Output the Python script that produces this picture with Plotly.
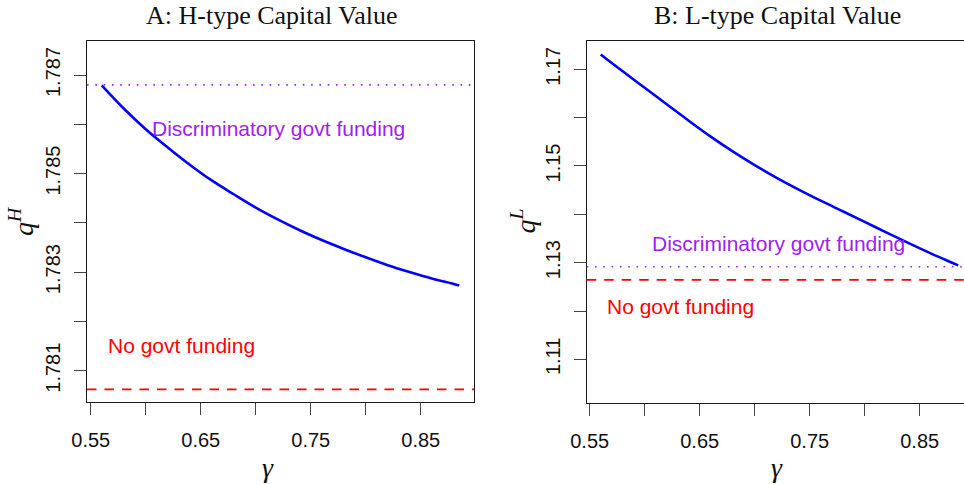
import plotly.graph_objects as go

# Ownership share of H-type producers
gamma = [0.56, 0.58, 0.60, 0.62, 0.64, 0.66, 0.68, 0.70, 0.72,
         0.74, 0.76, 0.78, 0.80, 0.82, 0.84, 0.86, 0.88, 0.885]

# Capital values under discriminatory government funding
q_high = [1.78679, 1.78632, 1.78590, 1.78553, 1.78518, 1.78486, 1.78458, 1.78431, 1.78407,
          1.78385, 1.78365, 1.78347, 1.78330, 1.78314, 1.78300, 1.78287, 1.78276, 1.78273]
q_low = [1.17306, 1.16958, 1.16618, 1.16278, 1.15937, 1.15608, 1.15302, 1.15018, 1.14756,
         1.14512, 1.14282, 1.14063, 1.13843, 1.13621, 1.13403, 1.13192, 1.12994, 1.12945]

# Benchmark levels
q_high_disc = 1.78680
q_high_none = 1.78062
q_low_disc = 1.12917
q_low_none = 1.12644

# Labelled and unlabelled tick positions
x_ticks = [0.55, 0.65, 0.75, 0.85]
x_minor = [0.60, 0.70, 0.80]
yh_ticks = [1.781, 1.783, 1.785, 1.787]
yh_minor = [1.782, 1.784, 1.786]
yl_ticks = [1.11, 1.13, 1.15, 1.17]
yl_minor = [1.12, 1.14, 1.16]

W, H = 964, 485
SANS = "Liberation Sans, Arial, Helvetica, sans-serif"
SERIF = "Liberation Serif, Times New Roman, serif"
BLUE = "#0000FF"
PURPLE = "#A020F0"
RED = "#FF0000"
DOTTED = "1.6px,6.7px"
DASHED = "9.5px,8px"

fig = go.Figure()
for xa, ya, vals in (("x", "y", q_high), ("x2", "y2", q_low)):
    fig.add_trace(go.Scatter(x=gamma, y=vals, mode="lines", xaxis=xa, yaxis=ya,
                             line=dict(color=BLUE, width=2.6, shape="spline", smoothing=1.0),
                             showlegend=False, hoverinfo="skip"))

axis_common = dict(showgrid=False, zeroline=False, showline=True, linecolor="#1a1a1a",
                   linewidth=1.2, ticks="outside", ticklen=12, tickwidth=1.2,
                   tickcolor="#444", automargin=False, tickmode="array",
                   tickfont=dict(family=SANS, size=20, color="#111"))

def minor(vals):
    return dict(tickmode="array", tickvals=vals, ticks="outside", ticklen=12,
                tickwidth=1.2, tickcolor="#444", showgrid=False)

def hline(axis, value, color, dash, width):
    return dict(type="line", xref=f"{axis} domain", x0=0, x1=1,
                yref=axis.replace("x", "y"), y0=value, y1=value,
                line=dict(color=color, dash=dash, width=width), layer="above")

fig.update_layout(
    width=W, height=H,
    margin=dict(l=0, r=0, t=0, b=0, pad=0, autoexpand=False),
    paper_bgcolor="white", plot_bgcolor="white",
    xaxis=dict(domain=[87 / W, 474.3 / W], range=[0.5466, 0.8987], anchor="y",
               tickvals=x_ticks, tickformat=".2f", minor=minor(x_minor), mirror=True,
               ticklabelstandoff=8, **axis_common),
    yaxis=dict(domain=[1 - 401.7 / H, 1 - 41 / H], range=[1.78037, 1.78769], anchor="x",
               tickvals=yh_ticks, tickformat=".3f", minor=minor(yh_minor),
               tickangle=-90, mirror=True, ticklabelstandoff=6, **axis_common),
    xaxis2=dict(domain=[586.7 / W, 1.0], range=[0.54727, 0.89027], anchor="y2",
                tickvals=x_ticks, tickformat=".2f", minor=minor(x_minor), mirror=True,
                ticklabelstandoff=8, **axis_common),
    yaxis2=dict(domain=[1 - 402.7 / H, 1 - 41 / H], range=[1.10104, 1.17585], anchor="x2",
                tickvals=yl_ticks, tickformat=".2f", minor=minor(yl_minor),
                tickangle=-90, ticklabelstandoff=6, **axis_common),
    shapes=[
        hline("x", q_high_disc, PURPLE, DOTTED, 1.6),
        hline("x", q_high_none, RED, DASHED, 1.8),
        hline("x2", q_low_disc, PURPLE, DOTTED, 1.6),
        hline("x2", q_low_none, RED, DASHED, 1.8),
    ],
)

def note(text, x, y, size, color, family, xref="paper", yref="paper", angle=0):
    if xref == "paper":
        x, y = x / W, 1 - y / H
    return dict(text=text, xref=xref, yref=yref, x=x, y=y, xanchor="center",
                yanchor="middle", textangle=angle, showarrow=False,
                font=dict(family=family, size=size, color=color))

annotations = [
    # panel titles
    note("A: H-type Capital Value", 272, 15, 26, "#111", SERIF),
    note("B: L-type Capital Value", 777.5, 15, 26, "#111", SERIF),
    # x axis titles
    note("<i>γ</i>", 268, 467, 28, "#111", SERIF),
    note("<i>γ</i>", 776.7, 467, 28, "#111", SERIF),
    # y axis titles
    note("<i>q</i><sup><i>H</i></sup>", 22, 221, 28, "#111", SERIF, angle=-90),
    note("<i>q</i><sup><i>L</i></sup>", 524.5, 221, 28, "#111", SERIF, angle=-90),
    # in-plot labels
    note("Discriminatory govt funding", 0.7203, 1.78592, 21, PURPLE, SANS, "x", "y"),
    note("No govt funding", 0.6324, 1.78152, 21, RED, SANS, "x", "y"),
    note("Discriminatory govt funding", 0.7212, 1.13401, 21, PURPLE, SANS, "x2", "y2"),
    note("No govt funding", 0.6321, 1.1209, 21, RED, SANS, "x2", "y2"),
]
fig.update_layout(annotations=annotations)

fig.write_html("out.html")
